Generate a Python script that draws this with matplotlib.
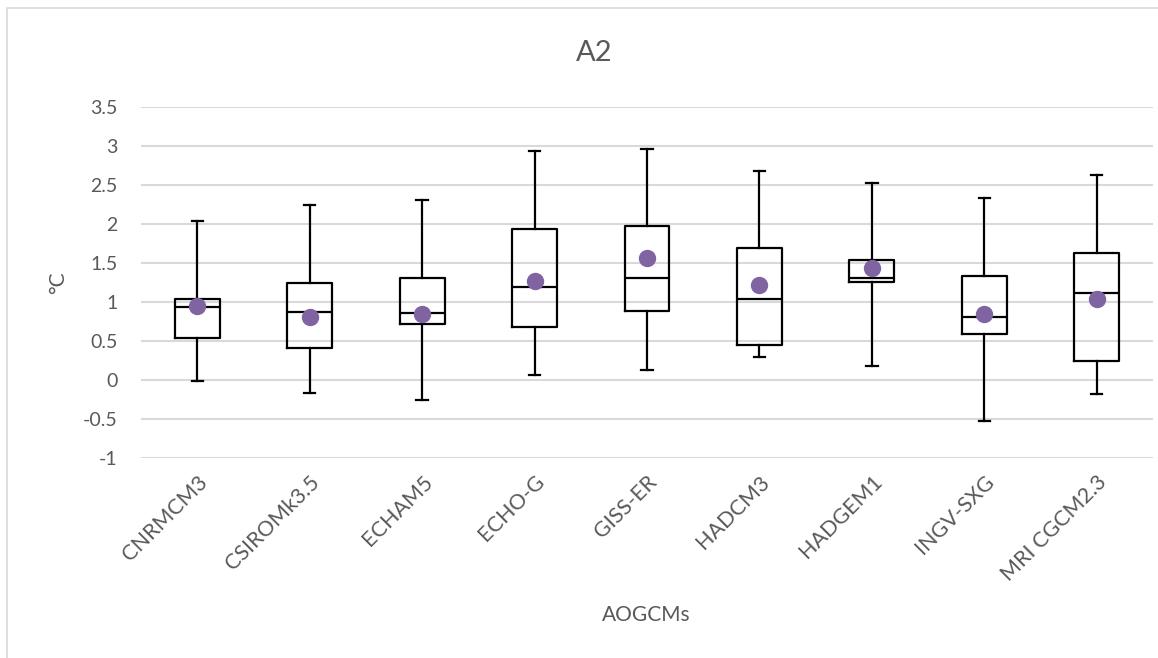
import matplotlib
matplotlib.use("Agg")
import matplotlib.pyplot as plt
from matplotlib.patches import Rectangle

plt.rcParams['font.family'] = ['Lato', 'DejaVu Sans']

categories = ["CNRMCM3", "CSIROMk3.5", "ECHAM5", "ECHO-G", "GISS-ER",
              "HADCM3", "HADGEM1", "INGV-SXG", "MRI CGCM2.3"]
whisker_low = [-0.02, -0.17, -0.265, 0.056, 0.13, 0.29, 0.175, -0.53, -0.18]
q1 = [0.53, 0.41, 0.71, 0.68, 0.88, 0.44, 1.25, 0.58, 0.24]
median = [0.93, 0.87, 0.86, 1.19, 1.30, 1.04, 1.30, 0.80, 1.11]
q3 = [1.04, 1.24, 1.30, 1.93, 1.97, 1.69, 1.53, 1.33, 1.62]
whisker_high = [2.04, 2.24, 2.30, 2.93, 2.96, 2.68, 2.52, 2.33, 2.62]
mean = [0.94, 0.80, 0.84, 1.26, 1.56, 1.21, 1.43, 0.84, 1.03]
yticks = [-1, -0.5, 0, 0.5, 1, 1.5, 2, 2.5, 3, 3.5]
ytick_labels = ["-1", "-0.5", "0", "0.5", "1", "1.5", "2", "2.5", "3", "3.5"]

W, H = 1158, 658
fig = plt.figure(figsize=(W / 100, H / 100), dpi=100)
ax = fig.add_axes([141 / W, 1 - 457.7 / H, (1153 - 141) / W, (457.7 - 106.7) / H])

stats = []
for i, c in enumerate(categories):
    stats.append(dict(label=c, whislo=whisker_low[i], q1=q1[i], med=median[i],
                      q3=q3[i], whishi=whisker_high[i], mean=mean[i], fliers=[]))

positions = list(range(1, len(categories) + 1))
line_kw = dict(color='black', linewidth=1.6)
ax.bxp(stats, positions=positions, widths=0.40, showmeans=True,
       boxprops=line_kw, whiskerprops=line_kw, medianprops=line_kw,
       capprops=line_kw, capwidths=0.10,
       meanprops=dict(marker='o', markerfacecolor='#8064A2',
                      markeredgecolor='#8064A2', markersize=11.5),
       showfliers=False, zorder=3)

ax.set_xlim(0.5, len(categories) + 0.5)
ax.set_ylim(-1, 3.5)
ax.set_yticks(yticks)
ax.set_yticklabels(ytick_labels)
ax.set_xticks(positions)
ax.set_xticklabels(categories, rotation=45, ha='right', rotation_mode='anchor')
ax.tick_params(axis='both', length=0, labelcolor='#595959')
ax.tick_params(axis='y', pad=17, labelsize=14)
ax.tick_params(axis='x', pad=10, labelsize=15.5)
ax.grid(axis='y', color='#D9D9D9', linewidth=1.5, zorder=0)
ax.set_axisbelow(True)
for s in ax.spines.values():
    s.set_visible(False)

fig.text(594 / W, 1 - 53 / H, "A2", ha='center', va='center', fontsize=21, color='#595959')
fig.text(58 / W, 1 - 283 / H, "°C", ha='center', va='center', rotation=90, fontsize=15, color='#595959')
fig.text(646 / W, 1 - 615 / H, "AOGCMs", ha='center', va='center', fontsize=15, color='#595959')

fig.patches.append(Rectangle((6.5 / W, -0.05), 1.2, 1 - 8 / H + 0.05, transform=fig.transFigure,
                             fill=False, edgecolor='#D9D9D9', linewidth=1.2))

fig.savefig("out.png", dpi=100)
